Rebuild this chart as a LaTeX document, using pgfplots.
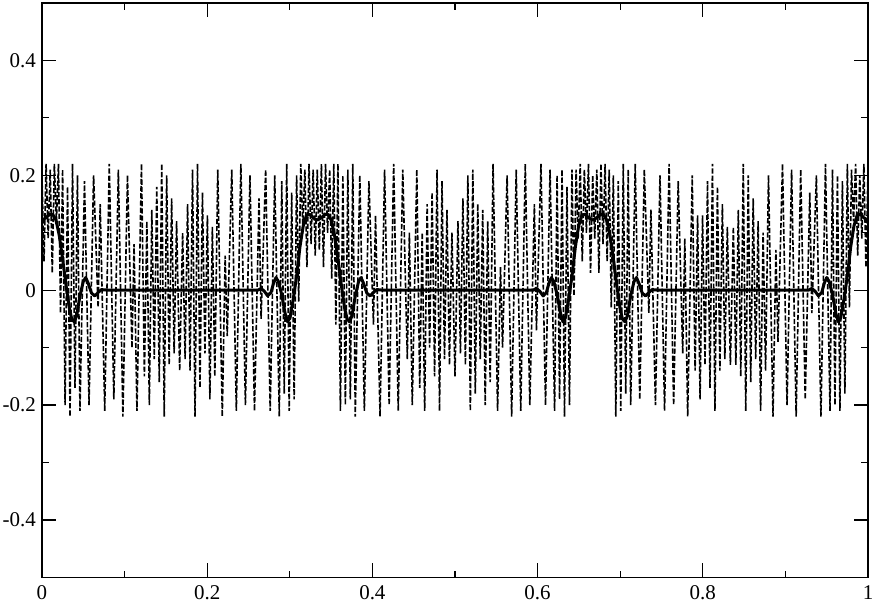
\documentclass[border=0pt]{standalone}
\usepackage{fontspec}
\setmainfont{Liberation Serif}
\usepackage{pgfplots}
\pgfplotsset{compat=1.18}
\usepackage{pgfplotstable}

\pgfplotstableread{
x y
0.0000 0.20
0.0025 0.05
0.0050 0.22
0.0075 0.09
0.0100 0.21
0.0125 0.03
0.0150 0.22
0.0175 0.12
0.0200 0.22
0.0225 -0.04
0.0250 0.21
0.0280 -0.20
0.0310 0.18
0.0340 -0.22
0.0370 0.22
0.0400 -0.17
0.0430 0.20
0.0460 -0.21
0.0515 0.19
0.0570 -0.20
0.0625 0.20
0.0680 -0.03
0.0705 0.15
0.0760 -0.21
0.0815 0.22
0.0870 -0.19
0.0925 0.21
0.0980 -0.22
0.1035 0.20
0.1090 -0.10
0.1115 0.08
0.1150 -0.21
0.1205 0.22
0.1240 -0.15
0.1270 0.12
0.1300 -0.20
0.1330 0.14
0.1360 -0.12
0.1390 0.18
0.1420 -0.16
0.1450 0.22
0.1480 -0.22
0.1510 0.20
0.1540 -0.13
0.1570 0.16
0.1600 -0.11
0.1630 0.12
0.1667 -0.14
0.1703 0.10
0.1733 -0.12
0.1763 0.15
0.1793 -0.14
0.1823 0.21
0.1853 -0.22
0.1883 0.22
0.1913 -0.17
0.1943 0.17
0.1973 -0.11
0.2003 0.13
0.2033 -0.19
0.2063 0.11
0.2093 -0.15
0.2128 0.21
0.2183 -0.22
0.2218 0.06
0.2243 -0.08
0.2298 0.21
0.2353 -0.21
0.2408 0.22
0.2463 -0.20
0.2518 0.20
0.2573 -0.21
0.2628 0.16
0.2653 -0.05
0.2708 0.21
0.2763 -0.21
0.2818 0.20
0.2873 -0.22
0.2903 0.19
0.2933 -0.18
0.2963 0.22
0.2993 -0.21
0.3023 0.17
0.3053 -0.19
0.3083 0.20
0.3108 -0.02
0.3133 0.22
0.3158 0.11
0.3183 0.21
0.3208 0.04
0.3233 0.22
0.3258 0.08
0.3283 0.21
0.3308 0.06
0.3333 0.21
0.3358 0.07
0.3383 0.22
0.3408 0.04
0.3433 0.22
0.3458 0.10
0.3483 0.21
0.3508 0.02
0.3533 0.22
0.3558 -0.06
0.3583 0.22
0.3613 -0.21
0.3643 0.20
0.3673 -0.20
0.3703 0.21
0.3733 -0.19
0.3763 0.22
0.3793 -0.22
0.3848 0.20
0.3903 -0.21
0.3958 0.19
0.4013 -0.06
0.4038 0.13
0.4093 -0.22
0.4148 0.21
0.4203 -0.20
0.4258 0.22
0.4313 -0.21
0.4368 0.21
0.4423 -0.12
0.4448 0.10
0.4483 -0.20
0.4538 0.21
0.4573 -0.17
0.4603 0.10
0.4633 -0.21
0.4663 0.15
0.4693 -0.10
0.4723 0.17
0.4753 -0.15
0.4783 0.21
0.4813 -0.21
0.4843 0.19
0.4873 -0.12
0.4903 0.14
0.4933 -0.13
0.4963 0.10
0.5000 -0.15
0.5036 0.12
0.5066 -0.11
0.5096 0.16
0.5126 -0.13
0.5156 0.20
0.5186 -0.21
0.5216 0.21
0.5246 -0.18
0.5276 0.15
0.5306 -0.12
0.5336 0.14
0.5366 -0.20
0.5396 0.12
0.5426 -0.16
0.5461 0.22
0.5516 -0.21
0.5551 0.04
0.5576 -0.10
0.5631 0.20
0.5686 -0.22
0.5741 0.21
0.5796 -0.21
0.5851 0.22
0.5906 -0.20
0.5961 0.15
0.5986 -0.07
0.6041 0.22
0.6096 -0.20
0.6151 0.21
0.6206 -0.21
0.6236 0.20
0.6266 -0.19
0.6296 0.21
0.6326 -0.22
0.6356 0.18
0.6386 -0.20
0.6416 0.21
0.6441 -0.01
0.6466 0.21
0.6491 0.09
0.6516 0.22
0.6541 0.05
0.6566 0.21
0.6591 0.10
0.6616 0.22
0.6641 0.03
0.6667 0.20
0.6692 0.09
0.6717 0.21
0.6742 0.03
0.6767 0.22
0.6792 0.08
0.6817 0.22
0.6842 0.05
0.6867 0.21
0.6892 -0.03
0.6917 0.20
0.6947 -0.22
0.6977 0.19
0.7007 -0.21
0.7037 0.22
0.7067 -0.18
0.7097 0.21
0.7127 -0.20
0.7182 0.22
0.7237 -0.19
0.7292 0.21
0.7347 -0.04
0.7372 0.14
0.7427 -0.20
0.7482 0.20
0.7537 -0.21
0.7592 0.22
0.7647 -0.20
0.7702 0.19
0.7757 -0.11
0.7782 0.09
0.7817 -0.22
0.7872 0.20
0.7907 -0.14
0.7937 0.13
0.7967 -0.19
0.7997 0.13
0.8027 -0.13
0.8057 0.19
0.8087 -0.17
0.8117 0.22
0.8147 -0.21
0.8177 0.18
0.8207 -0.14
0.8237 0.15
0.8267 -0.12
0.8297 0.11
0.8334 -0.13
0.8370 0.11
0.8400 -0.13
0.8430 0.14
0.8460 -0.15
0.8490 0.22
0.8520 -0.21
0.8550 0.20
0.8580 -0.16
0.8610 0.16
0.8640 -0.12
0.8670 0.12
0.8700 -0.21
0.8730 0.10
0.8760 -0.14
0.8795 0.20
0.8850 -0.22
0.8885 0.07
0.8910 -0.09
0.8965 0.22
0.9020 -0.20
0.9075 0.21
0.9130 -0.22
0.9185 0.21
0.9240 -0.19
0.9295 0.17
0.9320 -0.04
0.9375 0.20
0.9430 -0.22
0.9485 0.22
0.9540 -0.21
0.9570 0.21
0.9600 -0.20
0.9630 0.20
0.9660 -0.21
0.9690 0.19
0.9720 -0.18
0.9750 0.22
0.9775 -0.03
0.9800 0.21
0.9825 0.12
0.9850 0.22
0.9875 0.06
0.9900 0.20
0.9925 0.09
0.9950 0.22
0.9975 0.04
1.0000 0.21
}\dashdata

\pgfplotstableread{
x y
0.000 0.122
0.005 0.126
0.009 0.132
0.013 0.132
0.017 0.122
0.021 0.095
0.025 0.055
0.029 0.010
0.033 -0.030
0.036 -0.050
0.039 -0.055
0.042 -0.045
0.046 -0.010
0.050 0.015
0.053 0.022
0.056 0.012
0.060 -0.005
0.064 -0.010
0.068 -0.004
0.072 0.001
0.080 0
0.2533 0
0.2613 0
0.2653 0.003
0.2693 -0.002
0.2733 -0.010
0.2773 -0.004
0.2803 0.012
0.2833 0.022
0.2863 0.015
0.2903 -0.008
0.2943 -0.040
0.2973 -0.055
0.3003 -0.048
0.3043 -0.015
0.3083 0.025
0.3123 0.075
0.3163 0.112
0.3203 0.131
0.3243 0.132
0.3283 0.126
0.3333 0.122
0.3383 0.126
0.3423 0.132
0.3463 0.132
0.3503 0.122
0.3543 0.095
0.3583 0.055
0.3623 0.010
0.3663 -0.030
0.3693 -0.050
0.3723 -0.055
0.3753 -0.045
0.3793 -0.010
0.3833 0.015
0.3863 0.022
0.3893 0.012
0.3933 -0.005
0.3973 -0.010
0.4013 -0.004
0.4053 0.001
0.4133 0
0.5867 0
0.5947 0
0.5987 0.003
0.6027 -0.002
0.6067 -0.010
0.6107 -0.004
0.6137 0.012
0.6167 0.022
0.6197 0.015
0.6237 -0.008
0.6277 -0.040
0.6307 -0.055
0.6337 -0.048
0.6377 -0.015
0.6417 0.025
0.6457 0.075
0.6497 0.112
0.6537 0.131
0.6577 0.132
0.6617 0.126
0.6667 0.122
0.6717 0.126
0.6757 0.132
0.6797 0.132
0.6837 0.122
0.6877 0.095
0.6917 0.055
0.6957 0.010
0.6997 -0.030
0.7027 -0.050
0.7057 -0.055
0.7087 -0.045
0.7127 -0.010
0.7167 0.015
0.7197 0.022
0.7227 0.012
0.7267 -0.005
0.7307 -0.010
0.7347 -0.004
0.7387 0.001
0.7467 0
0.9200 0
0.9280 0
0.9320 0.003
0.9360 -0.002
0.9400 -0.010
0.9440 -0.004
0.9470 0.012
0.9500 0.022
0.9530 0.015
0.9570 -0.008
0.9610 -0.040
0.9640 -0.055
0.9670 -0.048
0.9710 -0.015
0.9750 0.025
0.9790 0.075
0.9830 0.112
0.9870 0.131
0.9910 0.132
0.9950 0.126
1.0000 0.122
}\soliddata

\begin{document}
\begin{tikzpicture}
\begin{axis}[
  scale only axis,
  width=413.5pt, height=287.5pt,
  xmin=0, xmax=1, ymin=-0.5, ymax=0.5,
  xtick={0,0.2,0.4,0.6,0.8,1},
  xticklabels={0,0.2,0.4,0.6,0.8,1},
  ytick={-0.4,-0.2,0,0.2,0.4},
  yticklabels={-0.4,-0.2,0,0.2,0.4},
  minor x tick num=1, minor y tick num=1,
  tick align=inside,
  major tick length=7pt, minor tick length=3.3pt,
  every tick/.style={black, line width=0.6pt},
  axis line style={line width=0.8pt},
  tick label style={font=\fontsize{10.5}{12}\selectfont},
  yticklabel style={xshift=0.5pt},
  xticklabel style={yshift=-0.5pt},
  /pgf/number format/assume math mode=true,
  clip=true,
]
\addplot[black, line width=0.8pt, dash pattern=on 2.6pt off 1pt] table[x=x,y=y] {\dashdata};
\addplot[black, line width=1.5pt, line join=round] table[x=x,y=y] {\soliddata};
\end{axis}
\pgfresetboundingbox
\path[use as bounding box] ([shift={(-21pt,-13pt)}]current axis.south west) rectangle ([shift={(2pt,1.5pt)}]current axis.north east);
\end{tikzpicture}
\end{document}
